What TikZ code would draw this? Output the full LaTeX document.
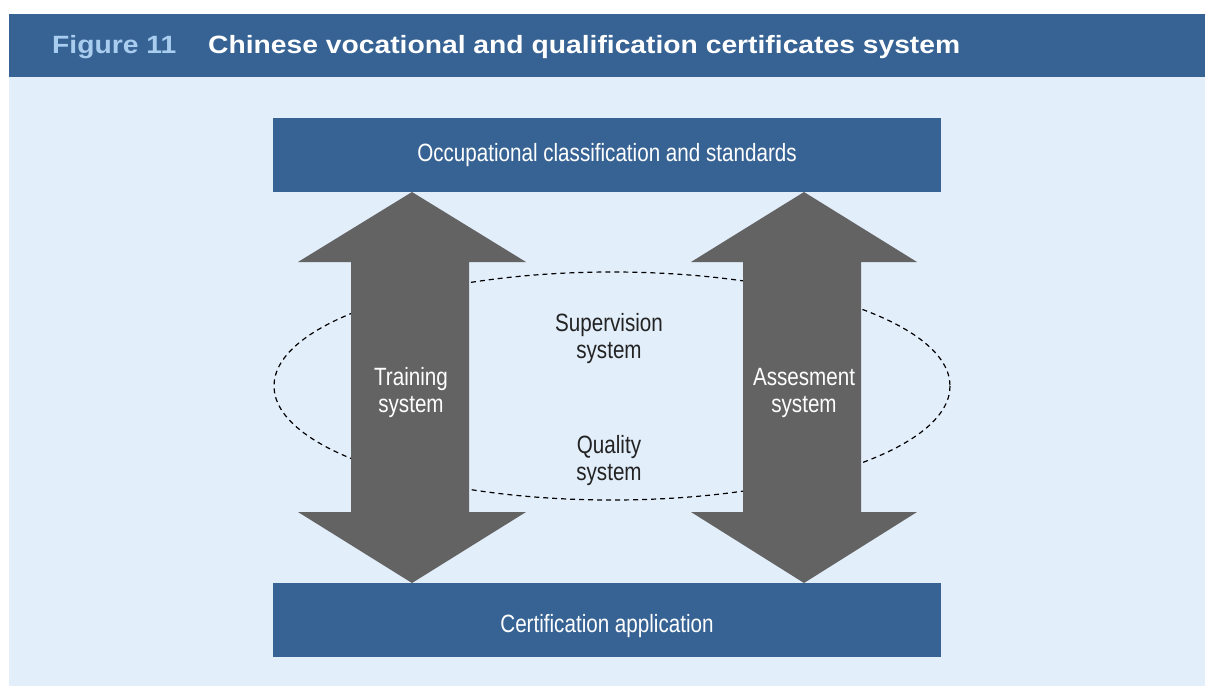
\documentclass[tikz,border=0pt]{standalone}
\usepackage{fontspec}
\setmainfont{Liberation Sans}
\newfontfamily\narrowfont[FakeStretch=0.825]{Liberation Sans}
\newfontfamily\widefont[FakeStretch=1.13]{Liberation Sans}
\definecolor{hdrblue}{RGB}{55,99,148}
\definecolor{bglight}{RGB}{226,238,250}
\definecolor{arrowgray}{RGB}{99,99,99}
\definecolor{figblue}{RGB}{169,205,238}
\definecolor{txtdark}{RGB}{35,35,35}
\tikzset{
  bluebox/.style={fill=hdrblue, text=white, minimum width=668pt, minimum height=74pt, inner sep=0pt, font=\narrowfont\fontsize{25}{27}\selectfont},
  label/.style={text=txtdark, align=center, inner sep=0pt, font=\narrowfont\fontsize{25}{27}\selectfont},
  arrowlabel/.style={text=white, align=center, inner sep=0pt, font=\narrowfont\fontsize{25}{27}\selectfont},
  headtext/.style={anchor=west, inner sep=0pt, font=\widefont\bfseries\fontsize{25}{27}\selectfont},
  bigarrow/.style={fill=arrowgray},
  ring/.style={draw=black, line width=1.2pt, dash pattern=on 5pt off 4pt}
}
\begin{document}
\begin{tikzpicture}[x=1pt,y=-1pt]
\useasboundingbox (0,0) rectangle (1205,686);
\fill[white] (0,0) rectangle (1205,686);
\fill[bglight] (9,77) rectangle (1205,686);
\fill[hdrblue] (9,14) rectangle (1205,77);
\node[headtext, text=figblue] (fig) at (52,47) {Figure 11};
\node[headtext, text=white] (title) at (208,47) {Chinese vocational and qualification certificates system};
% ellipse
\draw[ring] (612,386) ellipse [x radius=338, y radius=114];
% arrows
\fill[bigarrow] (412,192) -- (526,262) -- (469,262) -- (469,512) -- (526,512) -- (412,583) -- (298,512) -- (351,512) -- (351,262) -- (298,262) -- cycle;
\fill[bigarrow] (804,192) -- (917,262) -- (861,262) -- (861,512) -- (917,512) -- (804,583) -- (691,512) -- (743,512) -- (743,262) -- (691,262) -- cycle;
% boxes
\node[bluebox] (top) at (607,155) {Occupational classification and standards};
\node[bluebox] (bottom) at (607,620) {\raisebox{-12pt}[0pt][0pt]{Certification application}};
% labels
\node[arrowlabel] (training) at (411,393) {Training\\system};
\node[arrowlabel] (assess) at (804,393) {Assesment\\system};
\node[label] (super) at (609,339) {Supervision\\system};
\node[label] (quality) at (609,461) {Quality\\system};
\end{tikzpicture}
\end{document}
